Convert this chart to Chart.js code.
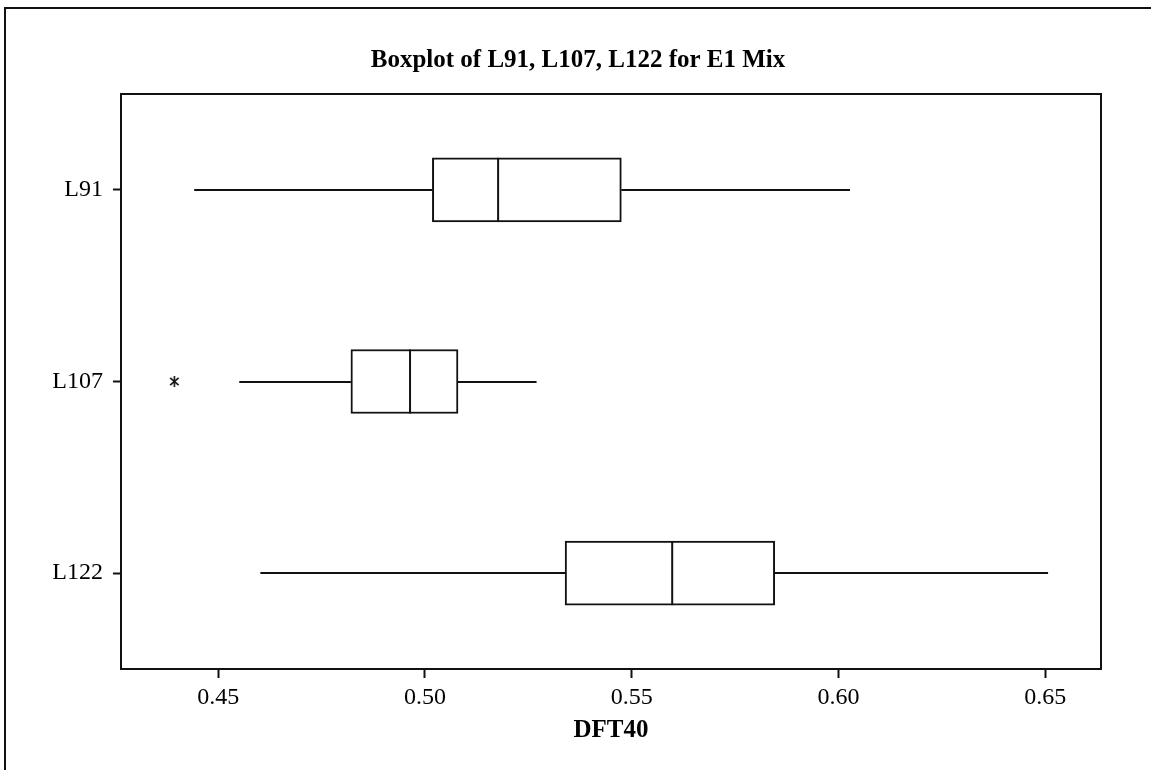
<!DOCTYPE html>
<html>
<head>
<meta charset="utf-8">
<script src="https://cdn.jsdelivr.net/npm/chart.js@4"></script>
<style>
  html, body { margin: 0; padding: 0; background: #ffffff; }
  #wrap { width: 1151px; height: 770px; }
</style>
</head>
<body>
<div id="wrap"><canvas id="c" width="1151" height="770"></canvas></div>
<script>
// Boxplot summary per group (DFT40)
const categories   = ['L91', 'L107', 'L122'];
const whiskerLow   = [0.4442, 0.4551, 0.4602];
const q1           = [0.5018, 0.4821, 0.5339];
const median       = [0.5177, 0.4964, 0.5598];
const q3           = [0.5475, 0.5080, 0.5846];
const whiskerHigh  = [0.6028, 0.5270, 0.6507];
const outlierGroup = ['L107'];
const outlierValue = [0.4394];
const xTicks       = [0.45, 0.50, 0.55, 0.60, 0.65];
const xRange       = [0.4265, 0.6635];

const titleText = 'Boxplot of L91, L107, L122 for E1 Mix';
const axisTitle = 'DFT40';
const serif = "'Liberation Serif', 'Times New Roman', serif";
const ink = '#111111';

// asterisk marker for outliers
const star = document.createElement('canvas');
star.width = 13; star.height = 13;
(function () {
  const g = star.getContext('2d');
  g.strokeStyle = ink; g.lineWidth = 1.6; g.lineCap = 'butt';
  const c = 6.5, r = 5.5;
  [90, 40, 140].forEach(a => {
    const t = a * Math.PI / 180;
    g.beginPath();
    g.moveTo(c - r * Math.cos(t), c - r * Math.sin(t));
    g.lineTo(c + r * Math.cos(t), c + r * Math.sin(t));
    g.stroke();
  });
})();

// whiskers, medians, plot frame, outer frame and title
const boxExtras = {
  id: 'boxExtras',
  beforeDatasetsDraw(chart) {
    const {ctx, scales: {x, y}} = chart;
    ctx.save();
    ctx.strokeStyle = ink; ctx.lineWidth = 2;
    categories.forEach((c, i) => {
      const py = Math.round(y.getPixelForValue(i));
      ctx.beginPath();
      ctx.moveTo(x.getPixelForValue(whiskerLow[i]), py);
      ctx.lineTo(x.getPixelForValue(q1[i]), py);
      ctx.moveTo(x.getPixelForValue(q3[i]), py);
      ctx.lineTo(x.getPixelForValue(whiskerHigh[i]), py);
      ctx.stroke();
    });
    ctx.restore();
  },
  afterDatasetsDraw(chart) {
    const {ctx, chartArea: a, scales: {x, y}} = chart;
    const half = 32;
    ctx.save();
    ctx.strokeStyle = ink; ctx.lineWidth = 2;
    categories.forEach((c, i) => {
      const py = y.getPixelForValue(i);
      const px = x.getPixelForValue(median[i]);
      ctx.beginPath();
      ctx.moveTo(px, py - half);
      ctx.lineTo(px, py + half);
      ctx.stroke();
    });
    ctx.strokeRect(a.left, a.top, a.right - a.left, a.bottom - a.top);
    ctx.strokeRect(5, 8, 1400, 1000);
    ctx.fillStyle = '#000000';
    ctx.font = 'bold 25px ' + serif;
    ctx.textAlign = 'center';
    ctx.textBaseline = 'alphabetic';
    ctx.fillText(titleText, 578, 67);
    ctx.restore();
  }
};

new Chart(document.getElementById('c'), {
  data: {
    labels: categories,
    datasets: [
      {
        type: 'bar',
        indexAxis: 'y',
        data: categories.map((c, i) => [q1[i], q3[i]]),
        backgroundColor: '#ffffff',
        borderColor: ink,
        borderWidth: 2,
        borderSkipped: false,
        barThickness: 64,
        xAxisID: 'x',
        yAxisID: 'y'
      },
      {
        type: 'scatter',
        data: outlierGroup.map((g, i) => ({x: outlierValue[i], y: g})),
        pointStyle: star,
        pointRadius: 6,
        xAxisID: 'x',
        yAxisID: 'y'
      }
    ]
  },
  options: {
    responsive: false,
    animation: false,
    layout: { padding: { top: 94, right: 50, left: 0, bottom: 0 } },
    plugins: {
      legend: { display: false },
      title: { display: false },
      tooltip: { enabled: false }
    },
    scales: {
      x: {
        type: 'linear',
        position: 'bottom',
        min: xRange[0],
        max: xRange[1],
        afterBuildTicks: s => { s.ticks = xTicks.map(v => ({value: v})); },
        afterFit: s => { s.height = 101; },
        ticks: {
          color: '#000000',
          font: { family: serif, size: 24 },
          padding: 5,
          maxRotation: 0,
          autoSkip: false,
          callback: v => Number(v).toFixed(2)
        },
        grid: { drawOnChartArea: false, tickLength: 9, tickColor: ink, tickWidth: 2 },
        border: { display: true, color: ink, width: 2 },
        title: {
          display: true,
          text: axisTitle,
          color: '#000000',
          font: { family: serif, size: 25, weight: 'bold' },
          padding: { top: 0, bottom: 24 }
        }
      },
      y: {
        type: 'category',
        labels: categories,
        offset: true,
        afterFit: s => { s.width = 121; },
        ticks: {
          color: '#000000',
          font: { family: serif, size: 24 },
          padding: 10
        },
        grid: { drawOnChartArea: false, offset: false, tickLength: 8, tickColor: ink, tickWidth: 2 },
        border: { display: true, color: ink, width: 2 }
      }
    }
  },
  plugins: [boxExtras]
});
</script>
</body>
</html>
